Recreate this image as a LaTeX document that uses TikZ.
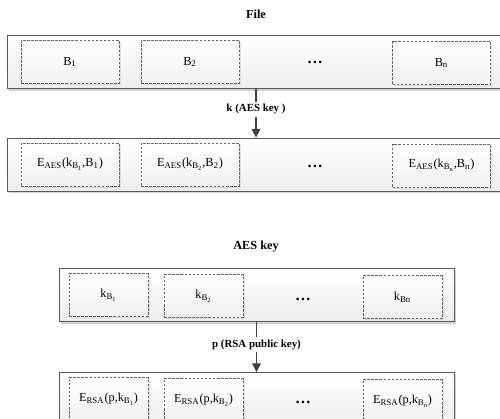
\documentclass[tikz,border=0pt]{standalone}
\usepackage{fontspec}
\setmainfont{Liberation Serif}
\usepackage{tikz}
\usetikzlibrary{arrows.meta,positioning,shadows}

% nested subscript, smaller than \textsubscript allows
\newcommand{\tinysub}[1]{\raisebox{-0.5ex}{\fontsize{3.6}{4}\selectfont #1}}

\begin{document}
\begin{tikzpicture}[
    outerbox/.style={rectangle, draw=black!65, line width=0.5pt, top color=white, bottom color=black!7,
        minimum width=9.96cm, minimum height=1.06cm,
        drop shadow={shadow xshift=0.04cm, shadow yshift=-0.04cm, fill=black!35, opacity=0.5}},
    keybox/.style={outerbox, minimum width=7.9cm},
    block/.style={rectangle, draw=black!60, dash pattern=on 1.5pt off 0.8pt, line width=0.4pt, top color=white, bottom color=black!6,
        minimum width=1.96cm, minimum height=0.86cm, align=center, font=\fontsize{7}{8}\selectfont,
        drop shadow={shadow xshift=0.03cm, shadow yshift=-0.03cm, fill=black!25, opacity=0.4}},
    keyblock/.style={block, minimum width=1.58cm},
    dots/.style={font=\fontsize{9}{10}\selectfont\bfseries},
    title/.style={font=\fontsize{7}{8}\selectfont\bfseries},
    arrow/.style={-{Triangle[length=5pt, width=5pt]}, line width=0.8pt, draw=black!75},
    keylabel/.style={font=\fontsize{6.2}{7}\selectfont\bfseries, fill=white, inner sep=1.5pt},
]
    \useasboundingbox (0,0) rectangle (10,8.36);
    \clip (0,0) rectangle (10,8.36);

    % File and its blocks
    \node[title] (filetitle) at (5.12, 8.08) {File};
    \node[outerbox] (file) at (5.12, 7.12) {};
    \node[block] (b1) at (1.40, 7.12) {B\textsubscript{1}};
    \node[block] (b2) at (3.80, 7.12) {B\textsubscript{2}};
    \node[dots] (bdots) at (6.30, 7.12) {\dots};
    \node[block] (bn) at (8.83, 7.10) {B\textsubscript{n}};

    % Encrypted blocks
    \node[outerbox] (fileenc) at (5.12, 5.07) {};
    \node[block] (e1) at (1.40, 5.07) {E\textsubscript{AES}(k\textsubscript{B\tinysub{1}},B\textsubscript{1})};
    \node[block] (e2) at (3.80, 5.07) {E\textsubscript{AES}(k\textsubscript{B\tinysub{2}},B\textsubscript{2})};
    \node[dots] (edots) at (6.30, 5.03) {\dots};
    \node[block] (en) at (8.83, 5.05) {E\textsubscript{AES}(k\textsubscript{B\tinysub{n}},B\textsubscript{n})};

    \draw[arrow] (file.south) -- (fileenc.north) node[pos=0.42, keylabel] {k (AES key )};

    % AES keys of the blocks
    \node[title] (keytitle) at (5.12, 3.42) {AES key};
    \node[keybox] (keys) at (5.13, 2.46) {};
    \node[keyblock] (k1) at (2.17, 2.46) {k\textsubscript{B\tinysub{1}}};
    \node[keyblock] (k2) at (4.07, 2.44) {k\textsubscript{B\tinysub{2}}};
    \node[dots] (kdots) at (6.06, 2.38) {\dots};
    \node[keyblock] (kn) at (8.05, 2.42) {k\textsubscript{Bn}};

    % Encrypted keys
    \node[keybox] (keysenc) at (5.13, 0.38) {};
    \node[keyblock] (r1) at (2.17, 0.38) {E\textsubscript{RSA}(p,k\textsubscript{B\tinysub{1}})};
    \node[keyblock] (r2) at (4.07, 0.36) {E\textsubscript{RSA}(p,k\textsubscript{B\tinysub{2}})};
    \node[dots] (rdots) at (6.06, 0.32) {\dots};
    \node[keyblock] (rn) at (8.05, 0.34) {E\textsubscript{RSA}(p,k\textsubscript{B\tinysub{n}})};

    \draw[arrow] (keys.south) -- (keysenc.north) node[pos=0.45, keylabel] {p (RSA public key)};
\end{tikzpicture}
\end{document}
